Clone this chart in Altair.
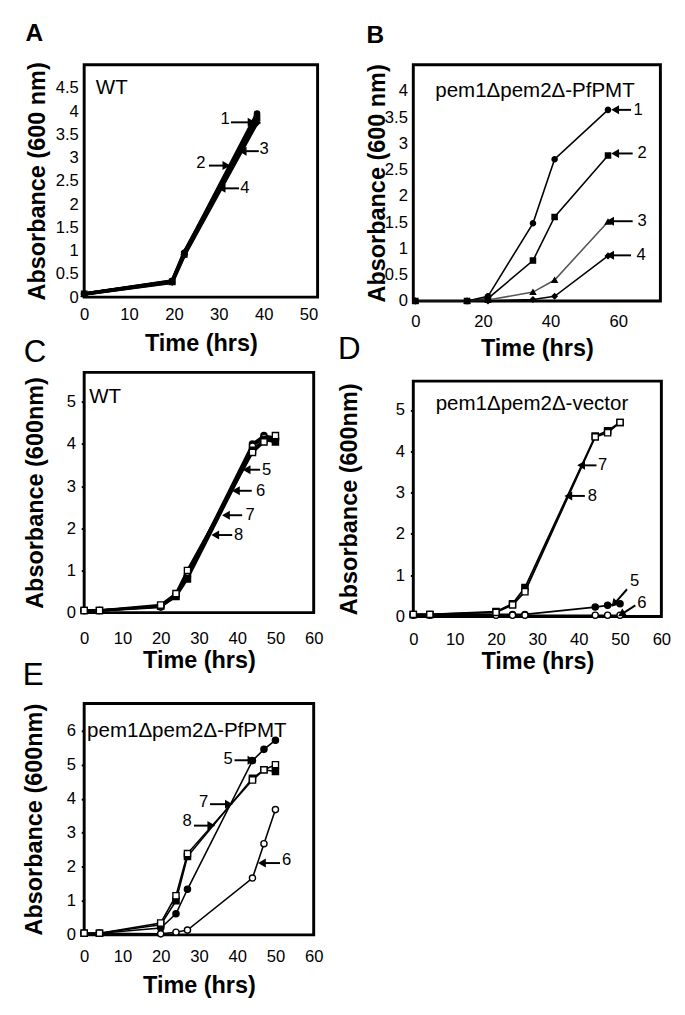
import altair as alt
import pandas as pd

FONT = "Liberation Sans"

# ---------------- Panel A : WT ----------------
A_time = [0, 19.6, 22.3, 38.5]
A_series = ["1", "2", "3", "4"]
A_values = {
    "1": [0.07, 0.35, 0.95, 3.95],
    "2": [0.07, 0.33, 0.92, 3.85],
    "3": [0.07, 0.34, 0.97, 3.80],
    "4": [0.07, 0.32, 0.90, 3.75],
}
A_arrow_label = ["1", "2", "3", "4"]
A_head_x = [37.0, 31.4, 35.6, 30.9]
A_head_y = [3.76, 2.83, 3.14, 2.34]
A_tail_x = [32.7, 27.8, 38.9, 34.5]
A_tail_y = [3.76, 2.83, 3.14, 2.34]
A_text_x = [31.4, 26.0, 40.1, 35.8]
A_text_y = [3.83, 2.88, 3.18, 2.34]
A_dir = [90, 90, 270, 270]
A_tag = "WT"
A_tag_x, A_tag_y = 2.6, 4.5
A_xticks = [0, 10, 20, 30, 40, 50]
A_yticks = [0, 0.5, 1, 1.5, 2, 2.5, 3, 3.5, 4, 4.5]

# ---------------- Panel B : pem1Δpem2Δ-PfPMT ----------------
B_time = [0, 15.3, 21.5, 34.8, 41.2, 57.0]
B_series = ["1", "2", "3", "4"]
B_values = {
    "1": [0, 0, 0.09, 1.48, 2.70, 3.64],
    "2": [0, 0, 0.05, 0.77, 1.60, 2.77],
    "3": [0, 0, 0.02, 0.17, 0.40, 1.51],
    "4": [0, 0, 0.00, 0.03, 0.09, 0.86],
}
B_arrow_label = ["1", "2", "3", "4"]
B_head_x = [59.5, 59.5, 58.0, 58.0]
B_head_y = [3.64, 2.81, 1.52, 0.87]
B_tail_x = [63.8, 64.3, 64.3, 63.8]
B_tail_y = [3.64, 2.81, 1.52, 0.87]
B_text_x = [65.9, 67.1, 67.1, 66.8]
B_text_y = [3.64, 2.81, 1.52, 0.87]
B_dir = [270, 270, 270, 270]
B_tag = "pem1\u0394pem2\u0394-PfPMT"
B_tag_x, B_tag_y = 35.4, 4.0
B_xticks = [0, 20, 40, 60]
B_yticks = [0, 0.5, 1, 1.5, 2, 2.5, 3, 3.5, 4]

# ---------------- Panels C, D, E : series 5-8 ----------------
CDE_time = [0, 4, 20, 24, 27, 44, 47, 50]
CDE_series = ["5", "6", "7", "8"]
C_values = {
    "5": [0.05, 0.05, 0.15, 0.42, 0.90, 4.00, 4.20, 4.15],
    "6": [0.05, 0.05, 0.13, 0.40, 0.85, 3.95, 4.15, 4.10],
    "7": [0.05, 0.05, 0.15, 0.38, 0.80, 3.85, 4.10, 4.05],
    "8": [0.05, 0.05, 0.18, 0.45, 1.00, 3.80, 4.05, 4.20],
}
C_arrow_label = ["5", "6", "7", "8"]
C_head_x = [42.8, 40.0, 37.4, 34.6]
C_head_y = [3.39, 2.89, 2.31, 1.84]
C_tail_x = [46.0, 43.8, 41.3, 38.7]
C_tail_y = [3.39, 2.89, 2.31, 1.84]
C_text_x = [47.7, 46.1, 43.4, 40.4]
C_text_y = [3.39, 2.89, 2.31, 1.84]
C_dir = [270, 270, 270, 270]
C_tag = "WT"
C_tag_x, C_tag_y = 1.3, 5.12

D_values = {
    "5": [0.05, 0.05, 0.05, 0.05, 0.05, 0.23, 0.27, 0.31],
    "6": [0.03, 0.03, 0.03, 0.03, 0.03, 0.03, 0.03, 0.03],
    "7": [0.05, 0.05, 0.12, 0.31, 0.70, 4.37, 4.50, 4.70],
    "8": [0.05, 0.05, 0.10, 0.28, 0.60, 4.35, 4.45, 4.70],
}
D_arrow_label = ["7", "8", "5", "6"]
D_head_x = [40.9, 37.8, 48.8, 50.6]
D_head_y = [3.66, 2.92, 0.33, 0.07]
D_tail_x = [44.3, 41.5, 51.7, 53.7]
D_tail_y = [3.66, 2.92, 0.66, 0.27]
D_text_x = [45.8, 43.3, 53.5, 55.3]
D_text_y = [3.66, 2.92, 0.85, 0.32]
D_dir = [270, 270, 222, 238]
D_tag = "pem1\u0394pem2\u0394-vector"
D_tag_x, D_tag_y = 28.7, 5.15

E_values = {
    "5": [0.05, 0.05, 0.20, 0.62, 1.34, 5.12, 5.45, 5.72],
    "6": [0.05, 0.05, 0.03, 0.08, 0.14, 1.67, 2.68, 3.68],
    "7": [0.05, 0.05, 0.30, 1.00, 2.30, 4.60, 4.85, 4.80],
    "8": [0.05, 0.05, 0.35, 1.15, 2.39, 4.55, 4.85, 5.00],
}
E_arrow_label = ["5", "7", "8", "6"]
E_head_x = [43.4, 37.5, 32.9, 46.8]
E_head_y = [5.13, 3.84, 3.21, 2.11]
E_tail_x = [39.3, 32.9, 28.7, 51.2]
E_tail_y = [5.13, 3.84, 3.21, 2.11]
E_text_x = [37.6, 31.2, 26.9, 52.9]
E_text_y = [5.17, 3.90, 3.33, 2.21]
E_dir = [90, 90, 90, 270]
E_tag = "pem1\u0394pem2\u0394-PfPMT"
E_tag_x, E_tag_y = 0.77, 5.99

CDE_xticks = [0, 10, 20, 30, 40, 50, 60]


def long_df(times, series, values):
    rows = []
    for s in series:
        for t, v in zip(times, values[s]):
            rows.append({"s": s, "t": t, "v": v})
    return pd.DataFrame(rows)


def arrow_df(lab, hx, hy, tx, ty, lx, ly, ang):
    return pd.DataFrame({"lab": lab, "hx": hx, "hy": hy, "tx": tx, "ty": ty,
                         "lx": lx, "ly": ly, "ang": ang})


def panel(letter, lsize, lweight, loffset, df, series, shapes, fills, lcolors, lwidth,
          msize, xdom, xvals, ydom, yvals, w, h, ytitle, ytick, ytpad, xlpad, xtpad,
          adf, tag, tagx, tagy, tagalign):
    xs = alt.Scale(domain=xdom, nice=False, zero=False)
    ys = alt.Scale(domain=ydom, nice=False, zero=False)
    xax = alt.Axis(values=xvals, title="Time (hrs)", labelExpr="'' + datum.value", ticks=False,
                   labelPadding=xlpad, titlePadding=xtpad, labelFlush=False,
                   labelOverlap=False)
    yargs = dict(values=yvals, title=ytitle, labelExpr="'' + datum.value", titlePadding=ytpad,
                 minExtent=24, maxExtent=24, labelPadding=6, labelOverlap=False)
    if ytick > 0:
        yargs.update(ticks=True, tickSize=ytick, tickWidth=2)
    else:
        yargs.update(ticks=False)
    yax = alt.Axis(**yargs)

    def X(f):
        return alt.X(f, scale=xs, axis=xax)

    def Y(f):
        return alt.Y(f, scale=ys, axis=yax)

    base = alt.Chart(df)
    lines = base.mark_line(strokeWidth=lwidth).encode(
        x=X("t:Q"), y=Y("v:Q"), detail="s:N",
        color=alt.Color("s:N", scale=alt.Scale(domain=series, range=lcolors), legend=None),
    )
    pts = base.mark_point(size=msize, strokeWidth=1.4, opacity=1, stroke="black").encode(
        x=X("t:Q"), y=Y("v:Q"),
        shape=alt.Shape("s:N", scale=alt.Scale(domain=series, range=shapes), legend=None),
        fill=alt.Fill("s:N", scale=alt.Scale(domain=series, range=fills), legend=None),
    )
    ach = alt.Chart(adf)
    rules = ach.mark_rule(strokeWidth=2, color="black").encode(
        x=X("tx:Q"), y=Y("ty:Q"), x2="hx:Q", y2="hy:Q")
    heads = ach.mark_point(shape="triangle", filled=True, color="black", size=85,
                           opacity=1).encode(
        x=X("hx:Q"), y=Y("hy:Q"), angle=alt.Angle("ang:Q", scale=None))
    labs = ach.mark_text(fontSize=17, font=FONT, color="black").encode(
        x=X("lx:Q"), y=Y("ly:Q"), text="lab:N")
    tdf = pd.DataFrame({"x": [tagx], "y": [tagy], "t": [tag]})
    tagm = alt.Chart(tdf).mark_text(fontSize=21, font=FONT, color="black",
                                    align=tagalign, baseline="middle").encode(
        x=X("x:Q"), y=Y("y:Q"), text="t:N")
    return alt.layer(lines, pts, rules, heads, labs, tagm).properties(
        width=w, height=h,
        title=alt.TitleParams(letter, anchor="start", frame="bounds", fontSize=lsize,
                              fontWeight=lweight, font=FONT, color="black", offset=loffset),
    ).resolve_scale(shape="independent", fill="independent", color="independent")


four_shapes = ["circle", "square", "triangle-up", "diamond"]
cde_shapes = ["circle", "circle", "square", "square"]
cde_fills = ["black", "white", "black", "white"]

pA = panel("A", 25, "bold", 16, long_df(A_time, A_series, A_values), A_series,
           four_shapes, ["black"] * 4, ["black"] * 4, 3.6, 30,
           [0, 52], A_xticks, [0, 5], A_yticks, 239, 238,
           "Absorbance (600 nm)", 0, 12, 10, 10,
           arrow_df(A_arrow_label, A_head_x, A_head_y, A_tail_x, A_tail_y, A_text_x, A_text_y, A_dir),
           A_tag, A_tag_x, A_tag_y, "left")

pB = panel("B", 25, "bold", 16, long_df(B_time, B_series, B_values), B_series,
           four_shapes, ["black"] * 4,
           ["black", "black", "#555555", "black"], 1.6, 28,
           [-0.6, 72.5], B_xticks, [0, 4.5], B_yticks, 253, 242,
           "Absorbance (600 nm)", 0, 0, 13, 8,
           arrow_df(B_arrow_label, B_head_x, B_head_y, B_tail_x, B_tail_y, B_text_x, B_text_y, B_dir),
           B_tag, B_tag_x, B_tag_y, "center")

pC = panel("C", 32, "normal", 4, long_df(CDE_time, CDE_series, C_values), CDE_series,
           cde_shapes, cde_fills, ["black"] * 4, 2.6, 40,
           [0, 60], CDE_xticks, [0, 5.7], [0, 1, 2, 3, 4, 5], 235, 246,
           "Absorbance (600nm)", 3, 14, 19, 2,
           arrow_df(C_arrow_label, C_head_x, C_head_y, C_tail_x, C_tail_y, C_text_x, C_text_y, C_dir),
           C_tag, C_tag_x, C_tag_y, "left")

pD = panel("D", 32, "normal", 16, long_df(CDE_time, CDE_series, D_values), CDE_series,
           cde_shapes, cde_fills, ["black"] * 4, 1.8, 40,
           [0, 60], CDE_xticks, [0, 5.7], [0, 1, 2, 3, 4, 5], 254, 241,
           "Absorbance (600nm)", 3, 29, 16, 2,
           arrow_df(D_arrow_label, D_head_x, D_head_y, D_tail_x, D_tail_y, D_text_x, D_text_y, D_dir),
           D_tag, D_tag_x, D_tag_y, "center")

pE = panel("E", 32, "normal", 12, long_df(CDE_time, CDE_series, E_values), CDE_series,
           cde_shapes, cde_fills, ["black"] * 4, 1.6, 40,
           [0, 60], CDE_xticks, [0, 6.8], [0, 1, 2, 3, 4, 5, 6], 235, 237,
           "Absorbance (600nm)", 3, 15, 14, 10,
           arrow_df(E_arrow_label, E_head_x, E_head_y, E_tail_x, E_tail_y, E_text_x, E_text_y, E_dir),
           E_tag, E_tag_x, E_tag_y, "left")

left_col = alt.vconcat(alt.vconcat(pA, pC, spacing=-24), pE, spacing=-17)
right_col = alt.vconcat(pB, pD, spacing=-32)
chart = alt.hconcat(left_col, right_col, spacing=12).configure_view(
    stroke="black", strokeWidth=3
).configure_axis(
    domain=False, grid=False, labelFont=FONT, titleFont=FONT, labelFontSize=17,
    titleFontSize=24, titleFontWeight="bold", labelColor="black", titleColor="black",
    tickColor="black"
).resolve_scale(shape="independent", fill="independent", color="independent").properties(
    padding={"left": 13, "top": 0, "right": 5, "bottom": 5})

chart.save("out.html", embed_options={"renderer": "svg", "actions": False})
